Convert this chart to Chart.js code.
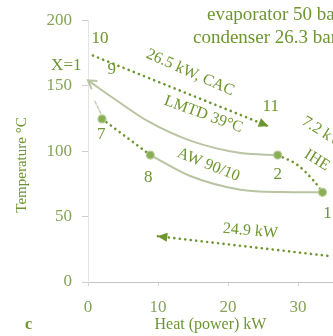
<!DOCTYPE html>
<html>
<head>
<meta charset="utf-8">
<script src="https://cdn.jsdelivr.net/npm/chart.js@4.4.1/dist/chart.umd.min.js"></script>
<style>
  html, body { margin: 0; padding: 0; background: #fff; overflow: hidden; }
  #wrap { width: 333px; height: 336px; }
</style>
</head>
<body>
<div id="wrap"><canvas id="chart"></canvas></div>
<script>
// axis ticks
const heatTicks = [0, 10, 20, 30];
const tempTicks = [0, 50, 100, 150, 200];

// 26.5 kW CAC line (10 -> 11)
const cacHeat = [0.7, 25.8];
const cacTemp = [173, 119];

// LMTD curve (towards X=1)
const lmtdHeat = [0, 4, 8.5, 14.6, 21.8, 27.1];
const lmtdTemp = [154, 139, 123, 108, 98.5, 97];

// AW 90/10 (7 -> 8)
const awHeat = [2.0, 8.9];
const awTemp = [124.6, 97];

// lower curve (8 -> 1)
const lowHeat = [8.9, 14.6, 21.8, 27.5, 33.5];
const lowTemp = [97, 81, 70.5, 68.7, 68.5];

// 7.2 kW IHE (2 -> 1)
const iheHeat = [27.1, 29.9, 32.2, 33.5];
const iheTemp = [97, 89.5, 77.6, 68.7];

// 24.9 kW line
const recHeat = [34.2, 9.9];
const recTemp = [20, 35];

// short link near X=1 -> 7
const linkHeat = [1.0, 1.8];
const linkTemp = [138, 129];

// state points
const pointNames = ['1', '2', '7', '8'];
const pointHeat = [33.5, 27.1, 2.0, 8.9];
const pointTemp = [68.5, 97, 124.6, 97];

const green = '#6e9630';
const pale = '#b9c4a2';
const serif = "'Liberation Serif', 'DejaVu Serif', serif";

function xy(xs, ys) {
  return xs.map((x, i) => ({ x: x, y: ys[i] }));
}

const dotted = {
  showLine: true, borderColor: green, borderWidth: 2.6,
  borderDash: [0.1, 5.4], borderCapStyle: 'round',
  pointRadius: 0, fill: false, clip: false
};
const solid = {
  showLine: true, borderColor: pale, borderWidth: 2,
  pointRadius: 0, fill: false, cubicInterpolationMode: 'monotone', clip: false
};

// text notes, placed in data units
const notes = [
  { t: '10', x: 1.7, y: 186, a: 0, s: 17 },
  { t: '9', x: 3.4, y: 162, a: 0, s: 17 },
  { t: 'X=1', x: -3.1, y: 165, a: 0, s: 17 },
  { t: '11', x: 26.1, y: 134, a: 0, s: 17 },
  { t: '2', x: 27.1, y: 82, a: 0, s: 17 },
  { t: '1', x: 34.2, y: 52, a: 0, s: 17 },
  { t: '7', x: 1.9, y: 113, a: 0, s: 17 },
  { t: '8', x: 8.6, y: 80, a: 0, s: 17 },
  { t: '26.5 kW, CAC', x: 14.6, y: 160, a: 24, s: 16 },
  { t: 'LMTD 39°C', x: 16.5, y: 128, a: 20, s: 16 },
  { t: 'AW 90/10', x: 17.2, y: 89.5, a: 22, s: 16 },
  { t: '7.2 kW', x: 33.6, y: 114, a: 32, s: 16 },
  { t: 'IHE', x: 32.7, y: 93, a: 32, s: 16 },
  { t: '24.9 kW', x: 23.2, y: 39, a: 5, s: 16 }
];

function arrowHead(ctx, tip, from, len, wid, filled, color) {
  const ang = Math.atan2(tip.y - from.y, tip.x - from.x);
  ctx.save();
  ctx.translate(tip.x, tip.y);
  ctx.rotate(ang);
  ctx.beginPath();
  ctx.moveTo(-len, -wid / 2);
  ctx.lineTo(0, 0);
  ctx.lineTo(-len, wid / 2);
  if (filled) {
    ctx.closePath();
    ctx.fillStyle = color;
    ctx.fill();
  } else {
    ctx.strokeStyle = color;
    ctx.lineWidth = 2;
    ctx.stroke();
  }
  ctx.restore();
}

const decor = {
  id: 'decor',
  afterDatasetsDraw(chart) {
    const ctx = chart.ctx;
    const sx = chart.scales.x, sy = chart.scales.y;
    const P = (x, y) => ({ x: sx.getPixelForValue(x), y: sy.getPixelForValue(y) });

    // arrows
    arrowHead(ctx, P(cacHeat[1], cacTemp[1]), P(cacHeat[0], cacTemp[0]), 10, 9, true, green);
    arrowHead(ctx, P(lmtdHeat[0], lmtdTemp[0]), P(lmtdHeat[1], lmtdTemp[1]), 8, 10, false, pale);
    arrowHead(ctx, P(recHeat[1], recTemp[1]), P(recHeat[0], recTemp[0]), 10, 9, true, green);

    // state points
    pointHeat.forEach((h, i) => {
      const p = P(h, pointTemp[i]);
      ctx.beginPath();
      ctx.arc(p.x, p.y, 4, 0, Math.PI * 2);
      ctx.fillStyle = '#8aae56';
      ctx.fill();
      ctx.lineWidth = 1.2;
      ctx.strokeStyle = '#b8cc98';
      ctx.stroke();
    });

    // notes
    ctx.fillStyle = green;
    ctx.textAlign = 'center';
    ctx.textBaseline = 'middle';
    notes.forEach(n => {
      const p = P(n.x, n.y);
      ctx.save();
      ctx.translate(p.x, p.y);
      ctx.rotate(n.a * Math.PI / 180);
      ctx.font = n.s + 'px ' + serif;
      ctx.fillText(n.t, 0, 0);
      ctx.restore();
    });

    // header text
    ctx.textAlign = 'left';
    ctx.font = '19px ' + serif;
    ctx.fillText('evaporator 50 bar', 207, 15);
    ctx.fillText('condenser 26.3 bar', 193, 38);

    // y axis title
    ctx.save();
    ctx.translate(22, 165);
    ctx.rotate(-Math.PI / 2);
    ctx.textAlign = 'center';
    ctx.font = '15px ' + serif;
    ctx.fillText('Temperature °C', 0, 0);
    ctx.restore();

    // panel letter
    ctx.font = 'bold 16px ' + serif;
    ctx.fillText('c', 25, 325);
  }
};

new Chart(document.getElementById('chart'), {
  type: 'scatter',
  data: {
    datasets: [
      Object.assign({ data: xy(cacHeat, cacTemp) }, dotted),
      Object.assign({ data: xy(lmtdHeat, lmtdTemp) }, solid),
      Object.assign({ data: xy(awHeat, awTemp) }, dotted),
      Object.assign({ data: xy(lowHeat, lowTemp) }, solid),
      Object.assign({ data: xy(iheHeat, iheTemp) }, dotted, { cubicInterpolationMode: 'monotone' }),
      Object.assign({ data: xy(recHeat, recTemp) }, dotted),
      Object.assign({ data: xy(linkHeat, linkTemp) }, dotted, { borderColor: '#c6d0b4', borderWidth: 1.5, borderDash: [3, 2] })
    ]
  },
  options: {
    responsive: true,
    maintainAspectRatio: false,
    animation: false,
    devicePixelRatio: 1,
    layout: { padding: { top: 14, right: 0, left: 0, bottom: 0 } },
    plugins: { legend: { display: false }, tooltip: { enabled: false } },
    scales: {
      x: {
        type: 'linear', min: 0, max: 35,
        afterBuildTicks: s => { s.ticks = heatTicks.map(v => ({ value: v })); },
        afterFit: s => { s.height = 54; },
        ticks: { color: '#86a35a', font: { family: serif, size: 17 }, padding: 11, maxRotation: 0, autoSkip: false },
        grid: { drawOnChartArea: false, tickLength: 4, color: '#d4d4d4' },
        border: { color: '#c4c4c4', dash: [2, 1.5] },
        title: { display: true, text: 'Heat (power) kW', color: green, font: { family: serif, size: 16 }, padding: { top: 0, bottom: 2 } }
      },
      y: {
        type: 'linear', min: 0, max: 200,
        afterBuildTicks: s => { s.ticks = tempTicks.map(v => ({ value: v })); },
        afterFit: s => { s.width = 88; },
        ticks: { color: '#86a35a', font: { family: serif, size: 17 }, padding: 10 },
        grid: { drawOnChartArea: false, tickLength: 6, color: '#cfcfcf' },
        border: { color: '#e4e4e4', dash: [2, 2] }
      }
    }
  },
  plugins: [decor]
});
</script>
</body>
</html>
